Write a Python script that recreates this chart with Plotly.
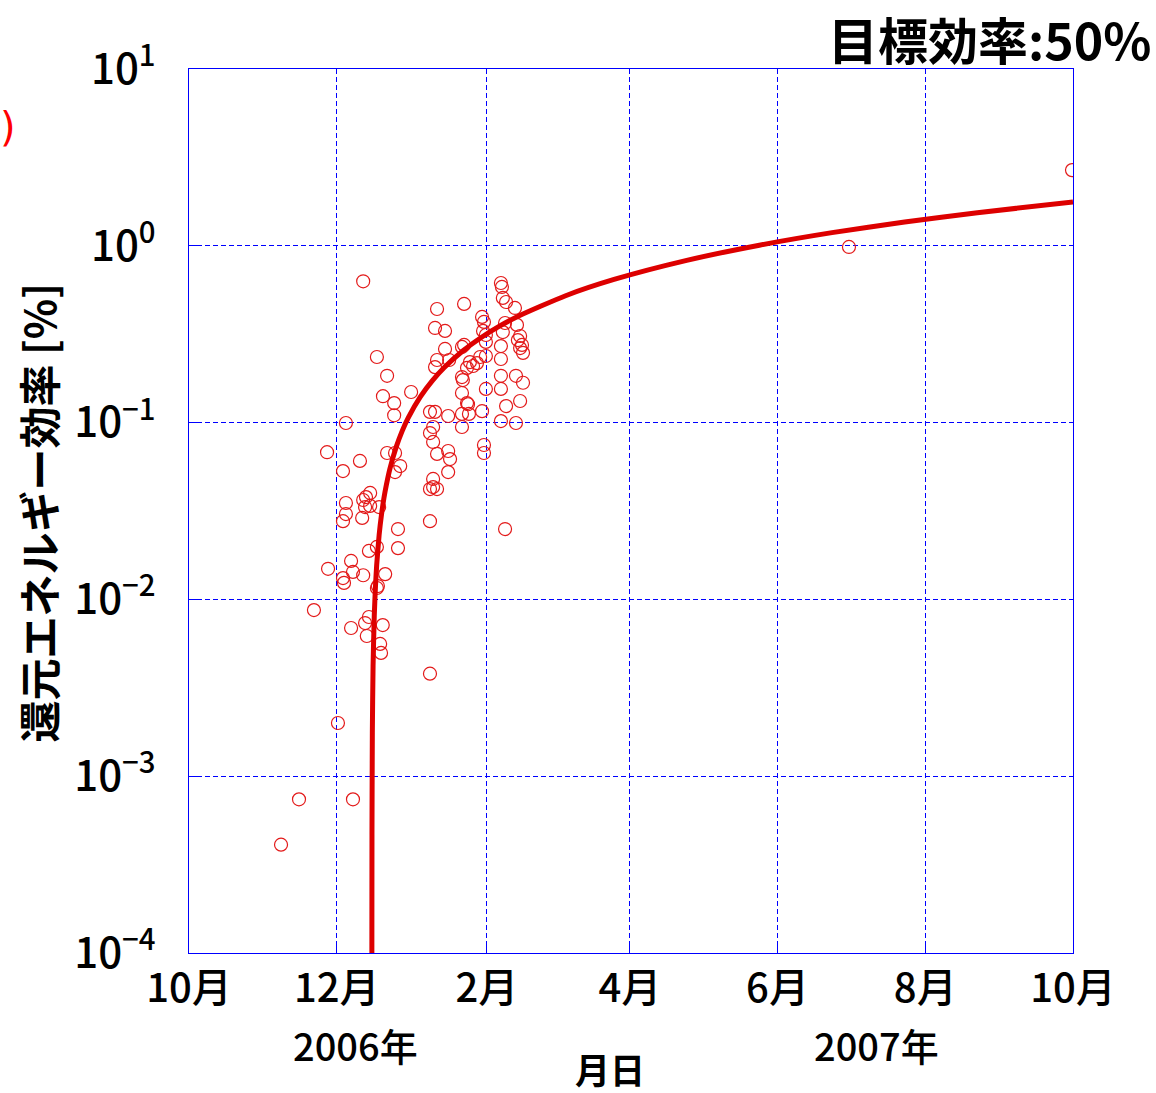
import pandas as pd
import plotly.graph_objects as go

# Measured reduction-energy efficiency samples (date, efficiency in %)
sample_dates = [
    "2006-11-08 00:00", "2006-11-15 10:00", "2006-12-07 17:00", "2006-12-01 12:00",
    "2007-01-08 12:00", "2006-11-21 14:00", "2007-02-08 12:00", "2007-06-30 12:00",
    "2007-09-30 14:00", "2006-12-11 22:00",
    # December group
    "2006-12-17 14:00", "2006-12-21 19:00", "2006-12-20 02:00", "2006-12-24 17:00",
    "2006-12-24 17:00", "2006-12-31 17:00", "2006-12-04 19:00", "2006-11-27 00:00",
    "2006-12-10 14:00", "2006-12-03 14:00", "2006-12-21 19:00", "2006-12-25 02:00",
    "2006-12-27 05:00", "2006-12-25 02:00", "2006-12-14 19:00", "2006-12-13 02:00",
    "2006-12-11 22:00", "2006-12-14 19:00", "2006-12-18 12:00", "2006-12-12 17:00",
    "2006-12-04 19:00", "2006-12-04 19:00", "2006-12-03 14:00", "2006-12-11 12:00",
    "2006-12-26 07:00", "2006-12-26 07:00", "2006-12-17 14:00", "2006-12-14 07:00",
    "2006-12-06 22:00", "2006-11-27 10:00", "2006-12-07 17:00", "2006-12-11 22:00",
    "2006-12-21 00:00", "2006-12-03 14:00", "2006-12-04 00:00", "2006-12-17 14:00",
    "2006-12-18 00:00", "2006-12-12 17:00", "2006-12-14 07:00", "2006-12-20 00:00",
    "2006-12-06 22:00", "2006-12-13 10:00", "2006-12-18 22:00", "2006-12-19 07:00",
    # January - February group
    "2007-01-11 10:00", "2007-01-22 14:00", "2007-01-10 14:00", "2007-01-14 17:00",
    "2007-01-14 17:00", "2007-01-11 10:00", "2007-01-10 14:00", "2007-01-16 10:00",
    "2007-01-21 17:00", "2007-01-22 14:00", "2007-01-26 07:00", "2007-01-23 19:00",
    "2007-01-25 00:00", "2007-01-22 02:00", "2007-01-21 17:00", "2007-01-21 17:00",
    "2007-01-23 19:00", "2007-01-21 17:00", "2007-01-24 14:00", "2007-01-21 17:00",
    "2007-01-30 00:00", "2007-01-31 14:00", "2007-02-06 19:00", "2007-02-06 19:00",
    "2007-02-06 19:00", "2007-02-06 19:00", "2007-02-07 14:00", "2007-02-08 12:00",
    "2007-02-06 19:00", "2007-02-13 00:00", "2007-02-14 17:00", "2007-02-08 22:00",
    "2007-02-13 00:00", "2007-02-15 22:00", "2007-02-15 22:00", "2007-02-14 17:00",
    "2007-02-15 12:00", "2007-02-13 19:00", "2007-02-14 17:00", "2007-02-13 10:00",
    "2007-02-12 14:00", "2007-02-07 14:00", "2007-02-08 22:00", "2007-02-06 19:00",
    "2007-02-07 05:00", "2007-01-30 00:00", "2007-01-30 19:00", "2007-01-30 10:00",
    "2007-01-31 14:00", "2007-01-31 14:00", "2007-01-31 14:00", "2007-01-29 05:00",
    "2007-01-27 22:00", "2007-01-30 19:00", "2007-01-30 19:00", "2007-01-08 12:00",
    "2007-01-10 14:00", "2007-01-16 00:00", "2007-01-09 19:00", "2007-01-08 12:00",
    "2007-01-09 19:00", "2007-01-11 10:00", "2007-01-16 00:00", "2007-01-16 19:00",
    "2007-01-16 00:00", "2007-01-09 19:00", "2007-01-08 12:00", "2007-01-11 10:00",
    "2007-01-09 19:00", "2007-01-08 12:00", "2007-01-24 05:00",
]
sample_values = [
    0.00041, 0.00074, 0.00074, 0.0020,
    0.0038, 0.0087, 0.025, 0.985,
    2.68, 0.63,
    0.235, 0.184, 0.141, 0.129,
    0.110, 0.149, 0.0995, 0.068,
    0.0607, 0.0532, 0.0673, 0.0673,
    0.0568, 0.0525, 0.040, 0.0379,
    0.0365, 0.0338, 0.0333, 0.0333,
    0.0351, 0.0304, 0.0277, 0.0289,
    0.025, 0.0195, 0.0198, 0.0188,
    0.0165, 0.0149, 0.0143, 0.0137,
    0.0139, 0.0132, 0.0124, 0.0116,
    0.0119, 0.00735, 0.00795, 0.00716,
    0.00689, 0.00621, 0.0056, 0.00498,
    0.439, 0.469, 0.343, 0.330,
    0.261, 0.226, 0.206, 0.226,
    0.268, 0.275, 0.209, 0.204,
    0.220, 0.174, 0.181, 0.147,
    0.129, 0.112, 0.112, 0.0944,
    0.116, 0.155, 0.155, 0.184,
    0.229, 0.271, 0.325, 0.366,
    0.102, 0.0995, 0.1325, 0.124,
    0.184, 0.168, 0.248, 0.264,
    0.275, 0.293, 0.309, 0.357,
    0.445, 0.507, 0.481, 0.616,
    0.585, 0.396, 0.371, 0.330,
    0.313, 0.286, 0.238, 0.235,
    0.217, 0.0747, 0.0673, 0.115,
    0.115, 0.109, 0.0944, 0.0873,
    0.0777, 0.0665, 0.0691, 0.0622,
    0.0525, 0.048, 0.0421, 0.0421,
    0.0432, 0.0277, 0.127,
]

# Trend curve toward the 50% target efficiency
trend_dates = [
    "2006-12-15 12:07", "2006-12-15 12:14", "2006-12-15 13:12", "2006-12-15 16:48",
    "2006-12-16 00:00", "2006-12-16 12:00", "2006-12-17 00:00", "2006-12-17 12:00",
    "2006-12-18 12:00", "2006-12-19 12:00", "2006-12-20 12:00", "2006-12-21 12:00",
    "2006-12-23 00:00", "2006-12-25 12:00", "2006-12-28 00:00", "2006-12-30 12:00",
    "2007-01-04 12:00", "2007-01-09 12:00", "2007-01-14 12:00", "2007-01-22 00:00",
    "2007-01-29 12:00", "2007-02-06 00:00", "2007-02-13 12:00", "2007-03-05 12:00",
    "2007-03-25 12:00", "2007-04-24 12:00", "2007-05-24 12:00", "2007-06-23 12:00",
    "2007-07-23 12:00", "2007-08-22 12:00", "2007-10-01 00:00",
]
trend_values = [
    0.000053, 0.000102, 0.00047, 0.00176,
    0.0042, 0.00812, 0.0119, 0.0157,
    0.0231, 0.0303, 0.0375, 0.0445,
    0.0551, 0.0724, 0.0895, 0.1064,
    0.1398, 0.1728, 0.2055, 0.254,
    0.302, 0.350, 0.397, 0.522,
    0.645, 0.827, 1.008, 1.187,
    1.364, 1.540, 1.769,
]

month_ticks = ["2006-10-01", "2006-12-01", "2007-02-01", "2007-04-01",
               "2007-06-01", "2007-08-01", "2007-10-01"]
month_labels = ["10月", "12月", "2月", "4月", "6月", "8月", "10月"]

decade_ticks = [1e-4, 1e-3, 1e-2, 1e-1, 1e0, 1e1]
decade_labels = ["10<sup>−4</sup>", "10<sup>−3</sup>", "10<sup>−2</sup>",
                 "10<sup>−1</sup>", "10<sup>0</sup>", "10<sup>1</sup>"]

FONT = "Noto Sans CJK JP, sans-serif"
BLUE = "#0000ff"

fig = go.Figure()
fig.add_trace(go.Scatter(
    x=pd.to_datetime(sample_dates), y=sample_values, mode="markers",
    marker=dict(symbol="circle-open", size=13, color="#e31a1a",
                line=dict(width=1.2, color="#e31a1a")),
    showlegend=False,
))
fig.add_trace(go.Scatter(
    x=pd.to_datetime(trend_dates), y=trend_values, mode="lines",
    line=dict(color="#dd0000", width=5, shape="spline", smoothing=0.6),
    showlegend=False,
))

fig.update_xaxes(
    type="date", range=["2006-10-01", "2007-10-01"],
    tickvals=month_ticks, ticktext=month_labels,
    showgrid=True, gridcolor=BLUE, gridwidth=1, griddash="5px,3px",
    showline=True, linecolor=BLUE, linewidth=1, mirror=True,
    ticks="inside", ticklen=10, tickcolor=BLUE,
    tickfont=dict(family=FONT, size=40, color="black", weight=500),
    ticklabelstandoff=0, zeroline=False,
)
fig.update_yaxes(
    type="log", range=[-4, 1],
    tickvals=decade_ticks, ticktext=decade_labels,
    showgrid=True, gridcolor=BLUE, gridwidth=1, griddash="5px,3px",
    showline=True, linecolor=BLUE, linewidth=1, mirror=True,
    ticks="inside", ticklen=12, tickcolor=BLUE,
    tickfont=dict(family=FONT, size=42, color="black", weight=500),
    ticklabelstandoff=24, zeroline=False,
)

annotations = [
    dict(text="目標効率:50%", x=1.0894, y=1.0351, xanchor="right", yanchor="middle",
         borderpad=0,
         font=dict(family=FONT, size=50, color="black", weight="bold")),
    dict(text="還元エネルギー効率 [%]", x=-0.171, y=0.498, textangle=-90,
         xanchor="center", yanchor="middle",
         font=dict(family=FONT, size=42, color="black", weight="bold")),
    dict(text="月日", x=0.476, y=-0.131, xanchor="center", yanchor="middle",
         font=dict(family=FONT, size=35, color="black", weight="bold")),
    dict(text="2006年", x=0.1878, y=-0.104, xanchor="center", yanchor="middle",
         font=dict(family=FONT, size=38, color="black", weight=500)),
    dict(text="2007年", x=0.778, y=-0.104, xanchor="center", yanchor="middle",
         font=dict(family=FONT, size=38, color="black", weight=500)),
    dict(text=")", x=-0.1934, y=0.934, xanchor="right", yanchor="middle",
         font=dict(family="DejaVu Sans", size=40, color="#ff0000")),
]
for a in annotations:
    a.update(xref="paper", yref="paper", showarrow=False)

fig.update_layout(
    width=1156, height=1093,
    margin=dict(l=189, r=83, t=69, b=140),
    paper_bgcolor="white", plot_bgcolor="white",
    annotations=annotations,
)

fig.write_html("out.html")
